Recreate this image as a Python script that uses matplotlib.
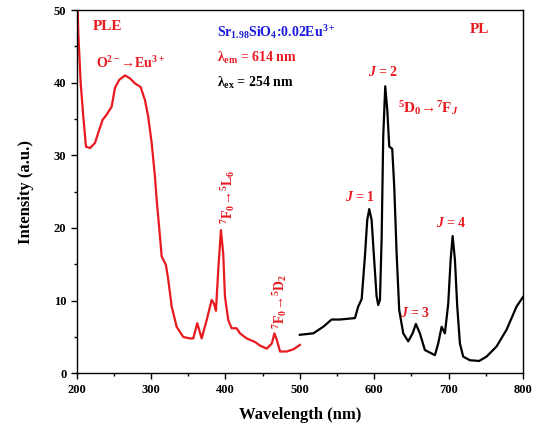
import matplotlib
matplotlib.use("Agg")
import matplotlib.pyplot as plt
from matplotlib.ticker import MultipleLocator

plt.rcParams['font.family'] = ['Liberation Serif', 'DejaVu Serif']
plt.rcParams['font.weight'] = 'bold'
plt.rcParams['mathtext.fontset'] = 'custom'
plt.rcParams['mathtext.rm'] = 'Liberation Serif:bold'
plt.rcParams['mathtext.it'] = 'Liberation Serif:italic:bold'
plt.rcParams['mathtext.bf'] = 'Liberation Serif:bold'

# excitation spectrum (PLE), monitored at 614 nm
ple_nm = [200, 202.2, 205.4, 208.9, 212.5, 217.9, 224.6, 229, 234.9, 240.3, 247,
          251.5, 257.3, 264.9, 271.6, 278.4, 286, 291.8, 296.2, 300.8, 305.2,
          307.5, 312, 314.2, 320, 323.1, 327.7, 334.4, 343.3, 352.3, 356.7,
          362.1, 368, 374.7, 381.5, 384.5, 387.2, 390.3, 393.9, 397,
          399.3, 403.8, 408.3, 415, 419.5, 428.5, 440, 446.6, 455.6, 462.3, 465.8,
          469, 473.4, 482.4, 491.3, 500]
ple_int = [56, 46.8, 39.9, 35.3, 31.2, 31.0, 31.7, 33.1, 34.9, 35.6, 36.7,
           39.3, 40.4, 41.0, 40.6, 39.9, 39.4, 37.6, 35.3, 31.7, 27.1,
           23.9, 18.8, 16.1, 14.9, 12.9, 9.2, 6.4, 5.0, 4.8, 4.8,
           6.9, 4.8, 7.3, 10.1, 9.6, 8.6, 14.2, 19.7, 16.5,
           10.6, 7.3, 6.2, 6.2, 5.5, 4.8, 4.3, 3.8, 3.4, 4.1, 5.5,
           4.6, 3.0, 3.0, 3.3, 3.9]

# emission spectrum (PL), excited at 254 nm
pl_nm = [500, 518.1, 531.4, 542.7, 553.9, 574.1, 578.5, 583.1, 587.5, 590.6,
         593.3, 596.5, 599.6, 603.2, 605.4, 607.7, 610, 612.1, 614.8, 617.5,
         620.2, 624.2, 626.9, 630.1, 633.6, 639, 645.7, 651.6, 656, 661.4,
         668.1, 681.6, 686, 690.6, 695, 699.5, 702.7, 705.4, 708.5, 711.6,
         715.2, 719.6, 728.6, 741.1, 751, 764.5, 777.9, 791.4, 800]
pl_int = [5.3, 5.5, 6.4, 7.4, 7.4, 7.6, 9.2, 10.2, 16.1, 21.1,
          22.6, 21.1, 16.1, 10.6, 9.4, 10.1, 18.8, 32.6, 39.5, 36.3,
          31.2, 30.9, 25.7, 16.5, 8.7, 5.5, 4.4, 5.5, 6.8, 5.5,
          3.2, 2.5, 4.1, 6.4, 5.5, 9.6, 15.6, 18.9, 15.6, 9.2,
          4.1, 2.3, 1.8, 1.7, 2.3, 3.7, 6.0, 9.2, 10.5]

red = '#e8191f'
fig = plt.figure(figsize=(5.34, 4.36), dpi=100)
ax = fig.add_axes([0.1436, 0.1438, 0.8358, 0.8332])

ax.plot(ple_nm, ple_int, color=red, lw=1.6, solid_joinstyle='round')
ax.plot(pl_nm, pl_int, color='black', lw=1.6, solid_joinstyle='round')

ax.set_xlim(200, 800)
ax.set_ylim(0, 50)
ax.xaxis.set_major_locator(MultipleLocator(100))
ax.xaxis.set_minor_locator(MultipleLocator(50))
ax.yaxis.set_major_locator(MultipleLocator(10))
ax.yaxis.set_minor_locator(MultipleLocator(5))
ax.tick_params(which='major', length=4, width=1, labelsize=9)
ax.tick_params(which='minor', length=2.5, width=1)
for s in ax.spines.values():
    s.set_linewidth(1)

ax.set_xlabel('Wavelength (nm)', fontsize=12, fontweight='bold', labelpad=8)
ax.set_ylabel('Intensity (a.u.)', fontsize=12, fontweight='bold', labelpad=14)

ax.text(221, 47.7, 'PLE', color=red, fontsize=11, va='center', ha='left')
ax.text(272, 42.7, 'O$^{2-}$→Eu$^{3+}$', color=red,
        fontsize=10, va='center', ha='center')
ax.text(388, 47, 'Sr$_{1.98}$SiO$_{4}$:0.02Eu$^{3+}$',
        color='#1a1adc', fontsize=10, va='center', ha='left')
ax.text(388, 43.4, 'λ$_{\\mathrm{em}}$ = 614 nm', color=red,
        fontsize=10, va='center', ha='left')
ax.text(388, 40, 'λ$_{\\mathrm{ex}}$ = 254 nm', color='black',
        fontsize=10, va='center', ha='left')
ax.text(741, 47.3, 'PL', color=red, fontsize=11, va='center', ha='center')

ax.text(612, 41.5, '$J$ = 2', color=red, fontsize=10, va='center', ha='center')
ax.text(673, 36.5, '$^{5}$D$_{0}$→$^{7}$F$_{J}$', color=red,
        fontsize=11, va='center', ha='center')
ax.text(581, 24.3, '$J$ = 1', color=red, fontsize=10, va='center', ha='center')
ax.text(655, 8.3, '$J$ = 3', color=red, fontsize=10, va='center', ha='center')
ax.text(704, 20.7, '$J$ = 4', color=red, fontsize=10, va='center', ha='center')

ax.text(403, 24.3, '$^{7}$F$_{0}$→$^{5}$L$_{6}$', color=red,
        fontsize=10, va='center', ha='center', rotation=90)
ax.text(473, 9.9, '$^{7}$F$_{0}$→$^{5}$D$_{2}$', color=red,
        fontsize=10, va='center', ha='center', rotation=90)

fig.savefig('out.png', dpi=100)
